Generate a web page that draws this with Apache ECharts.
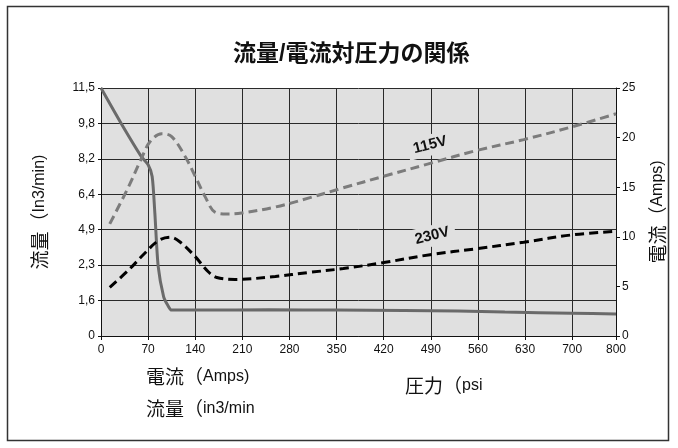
<!DOCTYPE html>
<html>
<head>
<meta charset="utf-8">
<script src="https://cdn.jsdelivr.net/npm/echarts@6/dist/echarts.min.js"></script>
<style>
html,body{margin:0;padding:0;background:#fff;}
#chart{width:678px;height:448px;}
</style>
</head>
<body>
<div id="chart"></div>
<script>
// ---- data ----
const chartTitle = '流量/電流対圧力の関係';
// x ticks (psi) as printed on the axis
const pressureTicks = [0, 70, 140, 210, 280, 350, 420, 490, 560, 630, 700, 800];
// left-axis ticks (in3/min) as printed
const flowTicks = [0, 1.6, 2.3, 4.9, 6.4, 8.2, 9.8, 11.5];
// right-axis ticks (Amps)
const ampTicks = [0, 5, 10, 15, 20, 25];

// flow curve (solid gray) : pressure psi, flow in3/min
const flowPsi = [0, 30, 60, 70, 76, 80, 85, 93, 99, 105, 150, 250, 350, 450, 530, 600, 700, 800];
const flowVal = [11.5, 9.8, 8.3, 7.9, 7.3, 5.6, 2.27, 1.68, 1.4, 1.17, 1.17, 1.18, 1.17, 1.15, 1.13, 1.08, 1.03, 0.99];

// 115V current (gray dashed) : pressure psi, Amps
const v115Psi = [13, 41, 60, 73, 90, 105, 125, 140, 155, 169, 187, 209, 259, 308, 358, 420, 489, 558, 628, 701, 800];
const v115Amp = [11.3, 15.05, 17.9, 19.6, 20.4, 20.1, 18.1, 16.1, 14.0, 12.5, 12.3, 12.4, 13.0, 13.9, 14.9, 16.1, 17.4, 18.7, 19.8, 21.1, 22.4];

// 230V current (black dashed)
const v230Psi = [13, 41, 65, 85, 103, 117, 140, 159, 172, 199, 259, 308, 360, 420, 489, 558, 628, 701, 800];
const v230Amp = [4.9, 6.65, 8.34, 9.6, 9.95, 9.5, 8.0, 6.5, 5.9, 5.7, 6.0, 6.4, 6.8, 7.4, 8.2, 8.8, 9.45, 10.2, 10.55];

// series label anchors (psi, Amps)
const label115 = {name: '115V', psi: 489, amp: 19.25};
const label230 = {name: '230V', psi: 492, amp: 10.1};

// text pieces (CJK part, Latin part)
const leftAxisName = ['流量（', 'In3/min)'];
const rightAxisName = ['電流（', 'Amps)'];
const noteCurrent = ['電流（', 'Amps)'];
const noteFlow = ['流量（', 'in3/min'];
const notePressure = ['圧力（', 'psi'];

// ---- axis scales (the printed tick labels are not evenly spaced in value) ----
const lastGap = 0.93; // last interval (700->800) is drawn slightly shorter
function tickPos(i) { return i < pressureTicks.length - 1 ? i : (i - 1) + lastGap; }
function psiToU(p) {
  for (let i = 0; i < pressureTicks.length - 1; i++) {
    const a = pressureTicks[i], b = pressureTicks[i + 1];
    if (p <= b) return tickPos(i) + (p - a) / (b - a) * (tickPos(i + 1) - tickPos(i));
  }
  return tickPos(pressureTicks.length - 1);
}
function flowToU(v) {
  for (let i = 0; i < flowTicks.length - 1; i++) {
    const a = flowTicks[i], b = flowTicks[i + 1];
    if (v <= b) return i + (v - a) / (b - a);
  }
  return flowTicks.length - 1;
}
const xMaxU = tickPos(pressureTicks.length - 1);

const flowData = flowPsi.map((p, i) => [psiToU(p), flowToU(flowVal[i])]);
const v115Data = v115Psi.map((p, i) => [psiToU(p), v115Amp[i]]);
const v230Data = v230Psi.map((p, i) => [psiToU(p), v230Amp[i]]);

const fmtComma = v => String(v).replace('.', ',');
const tickFont = {fontFamily: 'Liberation Sans, Arial, sans-serif', fontSize: 12, color: '#111'};
const cjkFont = '"Noto Sans CJK JP", sans-serif';
const latFont = '"Liberation Sans", Arial, sans-serif';
const richParts = (cs, ls) => ({
  c: {fontFamily: cjkFont, fontSize: cs, color: '#111', fill: '#111'},
  l: {fontFamily: latFont, fontSize: ls, color: '#111', fill: '#111'}
});
const richText = p => '{c|' + p[0] + '}{l|' + p[1] + '}';

const chart = echarts.init(document.getElementById('chart'), null, {renderer: 'canvas'});

function seriesLabel(l, y) {
  return {
    symbol: 'circle', symbolSize: 0,
    data: [{coord: [psiToU(l.psi), y], value: l.name}],
    label: {
      show: true, position: 'inside', formatter: l.name, rotate: 14,
      fontFamily: 'Liberation Sans, Arial, sans-serif', fontWeight: 'bold', fontSize: 15, color: '#111',
      backgroundColor: '#e0e0e0', padding: [3, 6]
    },
    itemStyle: {color: 'transparent'}
  };
}

function noteText(p, left, top) {
  return {type: 'text', left: left, top: top,
    style: {text: richText(p), rich: richParts(19, 16), fill: '#111'}};
}

chart.setOption({
  animation: false,
  backgroundColor: '#fff',
  grid: {left: 101, right: 62, top: 88, bottom: 112, show: true, backgroundColor: '#e0e0e0', borderWidth: 0},
  xAxis: {
    type: 'value', min: 0, max: xMaxU, interval: 1,
    axisLine: {show: true, onZero: false, lineStyle: {color: '#111', width: 1}},
    axisTick: {show: true, length: 4, lineStyle: {color: '#111'}},
    axisLabel: Object.assign({margin: 8, showMaxLabel: true, showMinLabel: true,
      formatter: v => {
        if (Math.abs(v - xMaxU) < 1e-6) return String(pressureTicks[pressureTicks.length - 1]);
        const i = Math.round(v);
        return String(pressureTicks[i]);
      }}, tickFont),
    splitLine: {show: true, lineStyle: {color: '#2a2a2a', width: 1}}
  },
  yAxis: [
    {
      type: 'value', min: 0, max: flowTicks.length - 1, interval: 1,
      name: richText(leftAxisName), nameLocation: 'middle', nameGap: 52, nameRotate: 90,
      nameTextStyle: {rich: richParts(19, 16)},
      axisLine: {show: true, lineStyle: {color: '#111'}},
      axisTick: {show: true, length: 3, lineStyle: {color: '#111'}},
      axisLabel: Object.assign({margin: 6, formatter: v => fmtComma(flowTicks[Math.round(v)])}, tickFont),
      splitLine: {show: true, lineStyle: {color: '#2a2a2a', width: 1}}
    },
    {
      type: 'value', min: ampTicks[0], max: ampTicks[ampTicks.length - 1], interval: ampTicks[1] - ampTicks[0],
      position: 'right',
      name: richText(rightAxisName), nameLocation: 'middle', nameGap: 32, nameRotate: 90,
      nameTextStyle: {rich: richParts(19, 16)},
      axisLine: {show: true, lineStyle: {color: '#111'}},
      axisTick: {show: true, length: 4, lineStyle: {color: '#111'}},
      axisLabel: Object.assign({margin: 6}, tickFont),
      splitLine: {show: false}
    }
  ],
  series: [
    {
      name: '流量', type: 'line', yAxisIndex: 0, data: flowData, smooth: 0.25,
      showSymbol: false, lineStyle: {color: '#6a6a6a', width: 3}, z: 3
    },
    {
      name: '115V', type: 'line', yAxisIndex: 1, data: v115Data, smooth: 0.35,
      showSymbol: false, lineStyle: {color: '#7c7c7c', width: 3, type: [9, 5]},
      markPoint: seriesLabel(label115, label115.amp), z: 4
    },
    {
      name: '230V', type: 'line', yAxisIndex: 1, data: v230Data, smooth: 0.35,
      showSymbol: false, lineStyle: {color: '#000', width: 3, type: [9, 5]},
      markPoint: seriesLabel(label230, label230.amp), z: 4
    }
  ],
  graphic: [
    {type: 'rect', silent: true, shape: {x: 7.5, y: 6.5, width: 661, height: 434},
      style: {fill: 'none', stroke: '#333', lineWidth: 1.5}},
    {type: 'text', left: 233, top: 43, style: {text: chartTitle, fontFamily: '"Liberation Sans", "Noto Sans CJK JP", sans-serif', fontWeight: 'bold', fontSize: 23, fill: '#111'}},
    noteText(noteCurrent, 146, 367),
    noteText(noteFlow, 146, 399),
    noteText(notePressure, 405, 376)
  ]
});
</script>
</body>
</html>
